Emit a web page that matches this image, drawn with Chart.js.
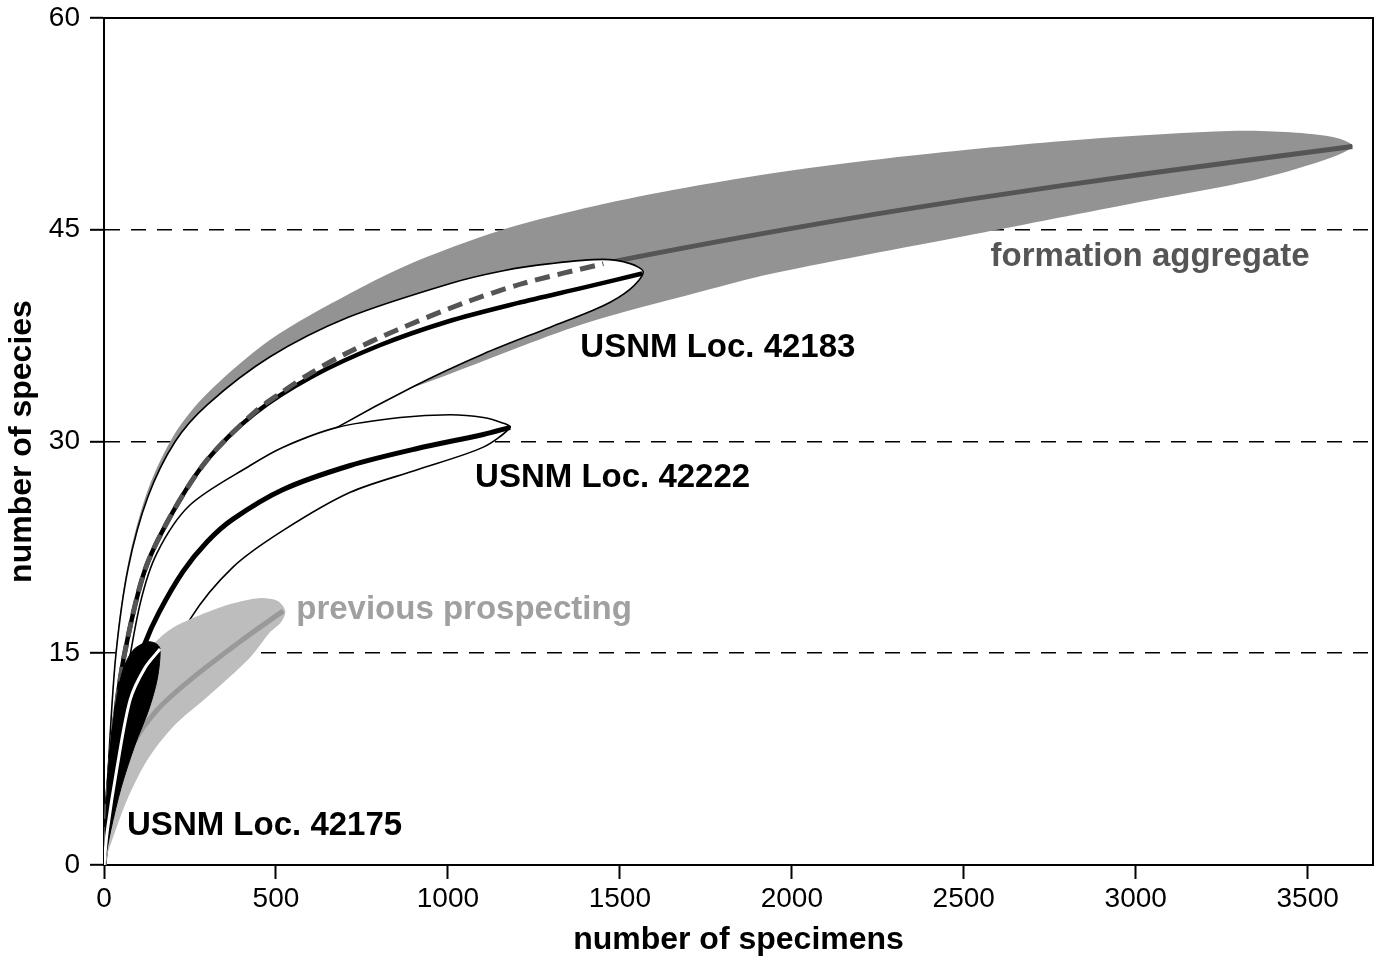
<!DOCTYPE html>
<html>
<head>
<meta charset="utf-8">
<script src="https://cdn.jsdelivr.net/npm/chart.js@4.4.1/dist/chart.umd.min.js"></script>
<style>
  html, body { margin: 0; padding: 0; background: #fff; }
  #wrap { width: 1383px; height: 959px; position: relative; }
</style>
</head>
<body>
<div id="wrap"><canvas id="rarefaction"></canvas></div>
<script>
// formation aggregate: 95% band + median curve
const aggUpperX = [0, 15, 35, 70, 128, 207, 300, 483, 716, 911, 1146, 1394, 1650, 1999, 2444, 2900, 3273, 3450, 3585, 3631];
const aggUpperY = [0, 8.3, 15.4, 21.4, 26.6, 30.6, 33.4, 37.2, 40.5, 42.8, 44.9, 46.5, 47.8, 49.2, 50.5, 51.5, 52.0, 51.9, 51.5, 50.9];
const aggLowerX = [0, 50, 150, 300, 500, 700, 986, 1391, 1734, 1944, 2557, 3043, 3343, 3544, 3631];
const aggLowerY = [0, 9, 18, 25, 29.5, 32, 34.6, 38.3, 40.6, 41.9, 44.8, 47.1, 48.5, 49.9, 50.9];
const aggMidX = [0, 10, 30, 60, 119, 200, 300, 439, 518, 605, 701, 852, 1045, 1219, 1452, 2000, 2500, 3040, 3630];
const aggMidY = [0, 4.5, 10, 15, 20.9, 25.0, 28.7, 32.1, 33.5, 34.9, 36.2, 37.9, 39.8, 41.2, 42.6, 45.1, 47.1, 49.0, 50.9];

// USNM Loc. 42183
const l42183UpperX = [0, 15, 35, 70, 128, 207, 300, 483, 710, 1007, 1161, 1298, 1450, 1530, 1568];
const l42183UpperY = [0, 8, 15, 21, 26.1, 30.0, 32.6, 36.0, 38.8, 41.2, 42.1, 42.6, 42.9, 42.6, 42.0];
const l42183LowerX = [0, 17, 76, 221, 425, 678, 900, 1103, 1298, 1450, 1530, 1568];
const l42183LowerY = [0, 4.6, 11.7, 21.6, 27.3, 31.0, 33.9, 36.2, 38.1, 39.6, 40.8, 42.0];
const l42183MidX = [0, 10, 30, 60, 119, 200, 300, 439, 605, 800, 1000, 1202, 1394, 1565];
const l42183MidY = [0, 4.5, 10, 15, 20.9, 25.0, 28.7, 32.0, 34.6, 36.8, 38.5, 39.8, 40.9, 41.9];

// USNM Loc. 42222
const l42222UpperX = [0, 20, 60, 105, 154, 250, 425, 521, 678, 861, 1007, 1103, 1161, 1181];
const l42222UpperY = [0, 6, 12.5, 18.5, 22.1, 25.5, 28.3, 29.6, 31.0, 31.7, 31.9, 31.7, 31.3, 31.0];
const l42222LowerX = [0, 47, 134, 250, 375, 521, 716, 911, 1103, 1181];
const l42222LowerY = [0, 5.3, 11.7, 17.4, 21.1, 23.7, 26.4, 28.0, 29.6, 31.0];
const l42222MidX = [0, 20, 50, 85, 119, 160, 230, 300, 375, 521, 716, 911, 1103, 1181];
const l42222MidY = [0, 5, 9.5, 13, 15.7, 17.9, 20.8, 22.9, 24.5, 26.6, 28.3, 29.5, 30.5, 31.0];

// previous prospecting
const prevUpperX = [0, 10, 30, 60, 100, 150, 200, 250, 300, 370, 450, 505, 527];
const prevUpperY = [0, 5, 9, 12, 14.2, 15.8, 16.8, 17.4, 17.9, 18.5, 18.9, 18.7, 18.0];
const prevLowerX = [0, 20, 67, 125, 201, 300, 425, 483, 515, 527];
const prevLowerY = [0, 1.5, 4.6, 7.4, 9.8, 11.9, 14.7, 16.5, 17.2, 18.0];
const prevMidX = [0, 10, 40, 85, 155, 250, 400, 521];
const prevMidY = [0, 2.5, 5.5, 8.6, 11.0, 13.1, 15.9, 18.0];

// USNM Loc. 42175
const l42175UpperX = [0, 15, 35, 55, 84, 125, 150, 163];
const l42175UpperY = [0, 7.5, 11.5, 13.8, 15.2, 15.8, 15.7, 15.3];
const l42175LowerX = [0, 20, 50, 90, 130, 155, 163];
const l42175LowerY = [0, 2.5, 5.5, 8.5, 11.0, 13.2, 15.3];
const l42175MidX = [0, 10, 38, 76, 120, 163];
const l42175MidY = [0, 2.5, 6.9, 11.7, 14.0, 15.3];

// axis ticks
const xTicks = [0, 500, 1000, 1500, 2000, 2500, 3000, 3500];
const yTicks = [0, 15, 30, 45, 60];

// text labels in the plot
const noteText = ['formation aggregate', 'USNM Loc. 42183', 'USNM Loc. 42222', 'previous prospecting', 'USNM Loc. 42175'];
const noteX = [2578, 1385, 1079, 559, 67];
const noteY = [43.1, 36.6, 27.4, 18.1, 2.8];
const noteColor = ['#555555', '#000000', '#000000', '#a0a0a0', '#000000'];

const FONT = '"Liberation Sans", Arial, Helvetica, sans-serif';

function curve(xs, ys) {
  return xs.map((x, i) => ({ x: x, y: ys[i] }));
}
function envelope(ux, uy, lx, ly) {
  const pts = curve(ux, uy);
  for (let i = lx.length - 2; i >= 0; i--) pts.push({ x: lx[i], y: ly[i] });
  return pts;
}

const aggDashed = curve(aggMidX, aggMidY).filter(p => p.x <= 1452);

// bottom layer first
const layers = [
  { data: envelope(aggUpperX, aggUpperY, aggLowerX, aggLowerY), fill: 'shape', backgroundColor: '#939393', borderWidth: 0 },
  { data: curve(aggMidX, aggMidY), borderColor: '#555555', borderWidth: 5 },
  { data: envelope(l42183UpperX, l42183UpperY, l42183LowerX, l42183LowerY), fill: 'shape', backgroundColor: '#ffffff', borderColor: '#000000', borderWidth: 1.6 },
  { data: curve(l42183MidX, l42183MidY), borderColor: '#000000', borderWidth: 4.5 },
  { data: aggDashed, borderColor: '#555555', borderWidth: 5, borderDash: [15, 8] },
  { data: envelope(l42222UpperX, l42222UpperY, l42222LowerX, l42222LowerY), fill: 'shape', backgroundColor: '#ffffff', borderColor: '#000000', borderWidth: 1.6 },
  { data: curve(l42222MidX, l42222MidY), borderColor: '#000000', borderWidth: 5 },
  { data: envelope(prevUpperX, prevUpperY, prevLowerX, prevLowerY), fill: 'shape', backgroundColor: '#bdbdbd', borderWidth: 0 },
  { data: curve(prevMidX, prevMidY), borderColor: '#999999', borderWidth: 5 },
  { data: envelope(l42175UpperX, l42175UpperY, l42175LowerX, l42175LowerY), fill: 'shape', backgroundColor: '#000000', borderColor: '#000000', borderWidth: 1 },
  { data: curve(l42175MidX, l42175MidY), borderColor: '#ffffff', borderWidth: 3 }
];
const datasets = layers.map((d, i) => Object.assign({
  fill: false,
  pointRadius: 0,
  tension: 0.3,
  order: layers.length - i
}, d));

const annotate = {
  id: 'annotate',
  afterDatasetsDraw(chart) {
    const { ctx, scales: { x, y } } = chart;
    ctx.save();
    ctx.font = 'bold 33px ' + FONT;
    ctx.textBaseline = 'middle';
    ctx.textAlign = 'left';
    noteText.forEach((t, i) => {
      ctx.fillStyle = noteColor[i];
      ctx.fillText(t, x.getPixelForValue(noteX[i]), y.getPixelForValue(noteY[i]));
    });
    ctx.restore();
  }
};

function fixSize(prop, size) {
  return function (s) {
    s[prop] = size;
    s.paddingTop = 0; s.paddingBottom = 0; s.paddingLeft = 0; s.paddingRight = 0;
  };
}

const ctx = document.getElementById('rarefaction').getContext('2d');
const chart = new Chart(ctx, {
  type: 'line',
  data: { datasets: datasets },
  plugins: [annotate],
  options: {
    responsive: true,
    maintainAspectRatio: false,
    animation: false,
    layout: { padding: 0 },
    plugins: {
      legend: { display: false },
      tooltip: { enabled: false }
    },
    scales: {
      x: {
        type: 'linear',
        position: 'bottom',
        min: 0,
        max: 3690,
        afterBuildTicks: s => { s.ticks = xTicks.map(v => ({ value: v })); },
        afterFit: fixSize('height', 94),
        ticks: { font: { size: 28, family: FONT }, color: '#000', padding: 3, maxRotation: 0, callback: v => String(v) },
        grid: { drawOnChartArea: false, tickLength: 14, tickWidth: 2, tickColor: '#000' },
        border: { display: true, color: '#000', width: 2 },
        title: { display: true, text: 'number of specimens', color: '#000', font: { size: 32, weight: 'bold', family: FONT }, padding: { top: 0, bottom: 0 } }
      },
      x2: {
        type: 'linear',
        axis: 'x',
        position: 'top',
        min: 0,
        max: 3690,
        afterFit: fixSize('height', 18),
        ticks: { display: false },
        grid: { display: false },
        border: { display: true, color: '#000', width: 2 }
      },
      y: {
        type: 'linear',
        position: 'left',
        min: 0,
        max: 60,
        afterBuildTicks: s => { s.ticks = yTicks.map(v => ({ value: v })); },
        afterFit: fixSize('width', 104),
        ticks: { font: { size: 28, family: FONT }, color: '#000', padding: 10, callback: v => String(v) },
        grid: {
          color: c => (c.tick && c.tick.value > 0 && c.tick.value < 60) ? '#000' : 'rgba(0,0,0,0)',
          lineWidth: 1.6,
          tickLength: 14,
          tickWidth: 2,
          tickColor: '#000'
        },
        border: { display: true, color: '#000', width: 2, dash: [15, 11] },
        title: { display: true, text: 'number of species', color: '#000', font: { size: 32, weight: 'bold', family: FONT }, padding: { top: 3, bottom: 0 } }
      },
      y2: {
        type: 'linear',
        axis: 'y',
        position: 'right',
        min: 0,
        max: 60,
        afterFit: fixSize('width', 10),
        ticks: { display: false },
        grid: { display: false },
        border: { display: true, color: '#000', width: 2 }
      }
    }
  }
});
</script>
</body>
</html>
